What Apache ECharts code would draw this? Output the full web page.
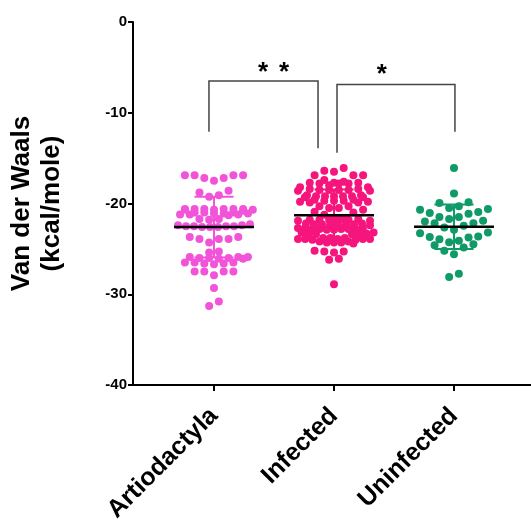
<!DOCTYPE html>
<html>
<head>
<meta charset="utf-8">
<script src="https://cdn.jsdelivr.net/npm/echarts@6/dist/echarts.min.js"></script>
<style>
  html, body { margin: 0; padding: 0; background: #ffffff; }
  #chart { width: 531px; height: 521px; }
</style>
</head>
<body>
<div id="chart"></div>
<script>
// Group names along the x axis
const categories = ['Artiodactyla', 'Infected', 'Uninfected'];

// Van der Waals energies (kcal/mole), one value per structure
const artiodactyla = [
  -16.9, -16.9, -17.2, -17.5, -17.2, -16.9, -16.9,
  -18.6, -19.1, -19.25, -18.8,
  -20.6, -20.6, -20.6, -20.7, -20.7, -20.6, -20.8, -20.6, -20.7, -20.6,
  -21.0, -21.1, -21.2, -21.1, -21.0, -21.2, -21.1, -21.3, -21.0, -21.2,
  -21.7, -21.8, -21.7,
  -22.4, -22.5, -22.5, -22.6, -22.6, -22.5, -22.6, -22.5, -22.4, -22.3,
  -23.7, -23.9, -24.3, -23.9, -23.9, -23.7,
  -25.3, -25.4,
  -25.9, -26.0, -25.9, -26.0, -26.1, -25.9, -26.0,
  -26.1, -26.5, -26.6, -26.5, -26.6, -26.7, -26.5,
  -27.5, -27.5, -27.9, -27.5, -27.5,
  -29.3,
  -30.8, -31.3
];

const infected = [
  -16.1,
  -16.5, -16.4,
  -16.9, -16.9, -16.9,
  -17.4, -17.6,
  -17.7, -17.8, -17.7, -17.8, -17.7, -17.8, -18.0,
  -18.2, -18.2,
  -18.4, -18.5, -18.5, -18.6, -18.5, -18.4, -18.6, -18.5,
  -19.1, -19.2, -19.2, -19.3, -19.2, -19.1, -19.3, -19.2, -19.2,
  -19.6, -19.7, -19.8, -19.9, -19.9, -19.8, -19.7, -19.6, -19.7,
  -20.3, -20.3, -20.5, -20.5, -20.7, -20.9, -21.0,
  -21.25,
  -21.8, -21.7, -21.8, -21.9, -21.8, -21.7, -21.8, -21.9, -21.8, -21.7,
  -22.3, -22.2, -22.3, -22.4, -22.3, -22.2, -22.4, -22.3, -22.3,
  -22.8, -22.7, -22.8, -22.9, -22.8, -22.7, -22.8, -22.9, -22.8, -22.7,
  -23.3, -23.2, -23.3, -23.4, -23.3, -23.2, -23.4,
  -23.9, -23.8, -23.9, -24.0, -23.9, -23.8, -23.9, -24.0, -23.9, -23.8,
  -24.3, -24.2, -24.3, -24.4, -24.3, -24.2,
  -25.3, -25.2, -25.3, -25.4,
  -26.1, -26.2,
  -28.9
];

const uninfected = [
  -16.1,
  -18.9,
  -19.85, -19.95, -20.3, -20.5,
  -20.7, -21.06, -21.5, -21.7, -21.5, -21.13, -20.95, -20.6,
  -21.98, -22.17, -22.64, -22.9, -22.46, -22.17, -21.9,
  -23.2, -23.7, -23.93, -24.26, -24.1, -23.75, -23.64, -23.27,
  -24.6, -25.2, -25.6, -24.85, -24.5,
  -28.1, -27.75
];

// Group mean and standard deviation
const groupMeans = [-22.6, -21.3, -22.55];
const groupSDs = [3.35, 2.85, 2.45];

// Pairwise significance marks
const comparisons = [
  { from: 0, to: 1, mark: '* *' },
  { from: 1, to: 2, mark: '*' }
];

const groups = [artiodactyla, infected, uninfected];
const colors = ['#F254D9', '#F5157C', '#109A68'];
const FONT = '"Liberation Sans", Arial, Helvetica, sans-serif';

const chart = echarts.init(document.getElementById('chart'), null, { renderer: 'canvas' });

const baseOption = {
  animation: false,
  backgroundColor: '#ffffff',
  grid: { left: 133, right: 0, top: 22, bottom: 136, containLabel: false, outerBoundsMode: 'none' },
  xAxis: {
    type: 'value',
    min: 0.325,
    max: 3.6417,
    splitLine: { show: false },
    axisLine: { show: true, onZero: false, lineStyle: { color: '#000', width: 2 } },
    axisTick: { show: true, customValues: [1, 2, 3], length: 6, lineStyle: { color: '#000', width: 2 } },
    axisLabel: {
      show: true,
      customValues: [1, 2, 3],
      formatter: v => categories[Math.round(v) - 1] || '',
      rotate: 45,
      margin: 27,
      color: '#000',
      fontFamily: FONT,
      fontWeight: 'bold',
      fontSize: 25
    }
  },
  yAxis: {
    type: 'value',
    min: -40,
    max: 0,
    interval: 10,
    splitLine: { show: false },
    axisLine: { show: true, onZero: false, lineStyle: { color: '#000', width: 2 } },
    axisTick: { show: true, length: 5, lineStyle: { color: '#000', width: 2 } },
    axisLabel: { color: '#000', fontFamily: FONT, fontWeight: 'bold', fontSize: 15, margin: 6 },
    name: 'Van der Waals\n(kcal/mole)',
    nameLocation: 'middle',
    nameRotate: 90,
    nameGap: 66,
    nameTextStyle: { color: '#000', fontFamily: FONT, fontWeight: 'bold', fontSize: 26, lineHeight: 30 }
  },
  series: []
};

chart.setOption(baseOption);

// Row-binned scatter spread: values are grouped into horizontal bands of
// BIN_SPAN (in data units); each band is laid out as a row with the lowest
// values in the middle. Crowded bands are split into several staggered rows,
// and rows are squeezed so they never exceed MAX_HALF pixels from the centre.
const BIN_SPAN = 1.27;
const BIN_ORIGIN = -20.55;
const SLOT = 9.7;
const MAX_PER_ROW = 11;
const MAX_HALF = 36;

function spread(values, gi) {
  const cx = gi + 1;
  const centerPx = chart.convertToPixel({ gridIndex: 0 }, [cx, 0])[0];
  const bins = new Map();
  values.forEach(v => {
    const k = Math.floor((v - BIN_ORIGIN) / BIN_SPAN);
    if (!bins.has(k)) bins.set(k, []);
    bins.get(k).push(v);
  });
  const out = [];
  bins.forEach(list => {
    list.sort((a, b) => a - b);
    const n = list.length;
    const rows = Math.ceil(n / MAX_PER_ROW);
    let start = 0;
    let prevParity = null;
    for (let r = 0; r < rows; r++) {
      const m = Math.floor(n / rows) + (r < n % rows ? 1 : 0);
      const members = list.slice(start, start + m);
      start += m;
      const step = m > 1 ? Math.min(SLOT, (2 * MAX_HALF) / (m - 1)) : SLOT;
      const shift = (prevParity !== null && prevParity === m % 2) ? step / 2 * (r % 2 ? 1 : -1) : 0;
      prevParity = m % 2;
      const slots = [];
      for (let j = 0; j < m; j++) slots.push((j - (m - 1) / 2) * step);
      slots.sort((a, b) => Math.abs(a) - Math.abs(b) || a - b);
      members.forEach((v, j) => {
        const py = chart.convertToPixel({ gridIndex: 0 }, [cx, v])[1];
        const px = centerPx + slots[j] + shift;
        out.push([chart.convertFromPixel({ gridIndex: 0 }, [px, py])[0], v]);
      });
    }
  });
  return out;
}

const scatterSeries = groups.map((vals, gi) => ({
  name: categories[gi],
  type: 'scatter',
  symbol: 'circle',
  symbolSize: 8,
  itemStyle: { color: colors[gi], opacity: 1 },
  data: spread(vals, gi),
  z: 2
}));

// Mean (black) and SD whiskers (group colour)
const MEAN_HALF = 0.333;
const CAP_HALF = 0.163;
const statsSeries = {
  type: 'custom',
  z: 3,
  data: groupMeans.map((m, i) => [i, m, groupSDs[i]]),
  renderItem: (params, api) => {
    const gi = api.value(0), m = api.value(1), sd = api.value(2);
    const cx = gi + 1;
    const top = api.coord([cx, m + sd]);
    const bot = api.coord([cx, m - sd]);
    const ml = api.coord([cx - MEAN_HALF, m]);
    const mr = api.coord([cx + MEAN_HALF, m]);
    const cl = api.coord([cx - CAP_HALF, m])[0];
    const cr = api.coord([cx + CAP_HALF, m])[0];
    const col = colors[gi];
    return {
      type: 'group',
      children: [
        { type: 'line', shape: { x1: top[0], y1: top[1], x2: bot[0], y2: bot[1] }, style: { stroke: col, lineWidth: 2 } },
        { type: 'line', shape: { x1: cl, y1: top[1], x2: cr, y2: top[1] }, style: { stroke: col, lineWidth: 2 } },
        { type: 'line', shape: { x1: cl, y1: bot[1], x2: cr, y2: bot[1] }, style: { stroke: col, lineWidth: 2 } },
        { type: 'line', shape: { x1: ml[0], y1: ml[1], x2: mr[0], y2: mr[1] }, style: { stroke: '#000', lineWidth: 2.5 } }
      ]
    };
  }
};

// Significance brackets above the groups
const bracketLayout = [
  { x1: 0.958, x2: 1.867, top: -6.5, end1: -12.1, end2: -13.9, markX: 1.496, markY: -5.58 },
  { x1: 2.025, x2: 3.008, top: -6.9, end1: -14.4, end2: -12.1, markX: 2.398, markY: -5.8 }
];
const STAR_STEP = 21;
const bracketSeries = {
  type: 'custom',
  z: 4,
  data: comparisons.map((c, i) => [i]),
  renderItem: (params, api) => {
    const i = api.value(0);
    const b = bracketLayout[i];
    const p1 = api.coord([b.x1, b.end1]);
    const p2 = api.coord([b.x1, b.top]);
    const p3 = api.coord([b.x2, b.top]);
    const p4 = api.coord([b.x2, b.end2]);
    const mk = api.coord([b.markX, b.markY]);
    const stars = comparisons[i].mark.split(' ');
    const children = [
      { type: 'polyline', shape: { points: [p1, p2, p3, p4] }, style: { stroke: '#444', lineWidth: 1.5, fill: null } }
    ];
    stars.forEach((s, k) => {
      children.push({
        type: 'text',
        x: mk[0] + (k - (stars.length - 1) / 2) * STAR_STEP,
        y: mk[1],
        style: { text: s, fill: '#000', font: 'bold 26px ' + FONT, align: 'center', verticalAlign: 'middle' }
      });
    });
    return { type: 'group', children };
  }
};

chart.setOption({ series: [...scatterSeries, statsSeries, bracketSeries] });
</script>
</body>
</html>
